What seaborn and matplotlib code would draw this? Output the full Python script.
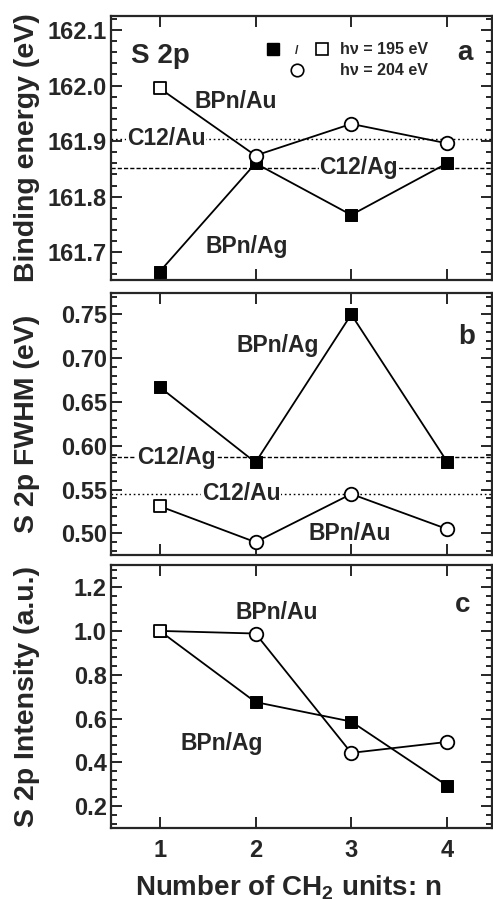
import seaborn as sns
import matplotlib.pyplot as plt
import pandas as pd
from matplotlib.ticker import MultipleLocator, AutoMinorLocator

# values
n_units = [1, 2, 3, 4]
be_bpn_au = [161.995, 161.874, 161.931, 161.896]
be_bpn_ag = [161.665, 161.860, 161.767, 161.860]
be_c12_au = 161.904
be_c12_ag = 161.852
fwhm_bpn_ag = [0.667, 0.581, 0.750, 0.582]
fwhm_bpn_au = [0.531, 0.490, 0.545, 0.505]
fwhm_c12_ag = 0.587
fwhm_c12_au = 0.5455
int_bpn_au = [1.0, 0.988, 0.443, 0.493]
int_bpn_ag = [1.0, 0.675, 0.586, 0.294]
# photon energy of each Au point: 195 eV (square) at n=1, 204 eV (circle) after
au_photon = ['195', '204', '204', '204']

sns.set_style('ticks')
plt.rcParams['font.family'] = ['Liberation Sans', 'DejaVu Sans']
plt.rcParams['font.weight'] = 'bold'
plt.rcParams['axes.labelweight'] = 'bold'
plt.rcParams['mathtext.fontset'] = 'custom'
plt.rcParams['mathtext.rm'] = 'Liberation Sans:bold'
plt.rcParams['mathtext.bf'] = 'Liberation Sans:bold'
plt.rcParams['mathtext.default'] = 'bf'

fig = plt.figure(figsize=(4.93, 9), dpi=100)
left, width = 0.225, 0.773
ax_a = fig.add_axes([left, 0.689, width, 0.293])
ax_b = fig.add_axes([left, 0.383, width, 0.291])
ax_c = fig.add_axes([left, 0.080, width, 0.292])

ms_sq = 75
ms_ci = 95


def draw_series(ax, au, ag):
    df_au = pd.DataFrame({'n': n_units, 'val': au, 'hv': au_photon})
    df_ag = pd.DataFrame({'n': n_units, 'val': ag})
    sns.lineplot(data=df_au, x='n', y='val', color='black', lw=1.3, ax=ax, zorder=2)
    sns.lineplot(data=df_ag, x='n', y='val', color='black', lw=1.3, ax=ax, zorder=2)
    sns.scatterplot(data=df_ag, x='n', y='val', marker='s', s=ms_sq, color='black',
                    edgecolor='black', ax=ax, zorder=3)
    sq = df_au[df_au['hv'] == '195']
    ci = df_au[df_au['hv'] == '204']
    sns.scatterplot(data=sq, x='n', y='val', marker='s', s=ms_sq, facecolor='white',
                    edgecolor='black', linewidth=1.3, ax=ax, zorder=4)
    sns.scatterplot(data=ci, x='n', y='val', marker='o', s=ms_ci, facecolor='white',
                    edgecolor='black', linewidth=1.3, ax=ax, zorder=4)


def style_axis(ax, ylo, yhi, major):
    ax.set_xlim(0.49, 4.47)
    ax.set_ylim(ylo, yhi)
    ax.xaxis.set_major_locator(MultipleLocator(1))
    ax.yaxis.set_major_locator(MultipleLocator(major))
    ax.yaxis.set_minor_locator(AutoMinorLocator(5))
    ax.tick_params(which='both', direction='in', top=True, right=True,
                   width=1.4, labelsize=17, pad=3)
    ax.tick_params(which='major', length=8)
    ax.tick_params(which='minor', length=4)
    for sp in ax.spines.values():
        sp.set_linewidth(1.6)
    ax.set_xlabel('')
    ax.yaxis.set_label_coords(-0.185, 0.5)


lbl = dict(fontsize=16.5, fontweight='bold', ha='center', va='center', zorder=5)
box = dict(facecolor='white', edgecolor='none', pad=0.5)

# panel a
draw_series(ax_a, be_bpn_au, be_bpn_ag)
ax_a.axhline(be_c12_au, color='black', lw=1.0, ls=(0, (1.2, 2.0)), zorder=1)
ax_a.axhline(be_c12_ag, color='black', lw=1.0, ls=(0, (3, 1.5)), zorder=1)
style_axis(ax_a, 161.65, 162.125, 0.1)
ax_a.set_ylabel('Binding energy (eV)', fontsize=20.5)
ax_a.tick_params(labelbottom=False)
ax_a.text(1.79, 161.971, 'BPn/Au', **lbl)
ax_a.text(1.07, be_c12_au, 'C12/Au', bbox=box, **lbl)
ax_a.text(3.08, be_c12_ag, 'C12/Ag', bbox=box, **lbl)
ax_a.text(1.905, 161.71, 'BPn/Ag', **lbl)
ax_a.text(0.052, 0.848, 'S 2p', transform=ax_a.transAxes, fontsize=20,
          fontweight='bold', va='center', ha='left')
ax_a.text(0.93, 0.86, 'a', transform=ax_a.transAxes, fontsize=20,
          fontweight='bold', va='center', ha='center')
# legend symbols
ax_a.plot([0.425], [0.875], marker='s', ms=8, color='black', transform=ax_a.transAxes)
ax_a.text(0.488, 0.868, '/', transform=ax_a.transAxes, fontsize=9,
          fontweight='bold', ha='center', va='center')
ax_a.plot([0.554], [0.875], marker='s', ms=8, mfc='white', mec='black', mew=1.2,
          transform=ax_a.transAxes)
ax_a.plot([0.488], [0.795], marker='o', ms=9, mfc='white', mec='black', mew=1.2,
          transform=ax_a.transAxes)
ax_a.text(0.601, 0.875, 'h\u03bd = 195 eV', transform=ax_a.transAxes, fontsize=11.5,
          fontweight='bold', va='center', ha='left')
ax_a.text(0.601, 0.795, 'h\u03bd = 204 eV', transform=ax_a.transAxes, fontsize=11.5,
          fontweight='bold', va='center', ha='left')

# panel b
draw_series(ax_b, fwhm_bpn_au, fwhm_bpn_ag)
ax_b.axhline(fwhm_c12_au, color='black', lw=1.0, ls=(0, (1.2, 2.0)), zorder=1)
ax_b.axhline(fwhm_c12_ag, color='black', lw=1.0, ls=(0, (3, 1.5)), zorder=1)
style_axis(ax_b, 0.475, 0.774, 0.05)
ax_b.yaxis.set_major_formatter(plt.FormatStrFormatter('%.2f'))
ax_b.set_ylabel('S 2p FWHM (eV)', fontsize=20.5)
ax_b.tick_params(labelbottom=False)
ax_b.text(2.23, 0.715, 'BPn/Ag', **lbl)
ax_b.text(1.17, fwhm_c12_ag, 'C12/Ag', bbox=box, **lbl)
ax_b.text(1.85, fwhm_c12_au, 'C12/Au', bbox=box, **lbl)
ax_b.text(2.98, 0.50, 'BPn/Au', **lbl)
ax_b.text(0.934, 0.833, 'b', transform=ax_b.transAxes, fontsize=20,
          fontweight='bold', va='center', ha='center')

# panel c
draw_series(ax_c, int_bpn_au, int_bpn_ag)
style_axis(ax_c, 0.1, 1.3, 0.2)
ax_c.yaxis.set_major_formatter(plt.FormatStrFormatter('%.1f'))
ax_c.set_ylabel('S 2p Intensity (a.u.)', fontsize=20.5)
ax_c.set_xlabel('Number of CH$_{\\mathregular{2}}$ units: n', fontsize=20)
ax_c.xaxis.set_label_coords(0.465, -0.172)
ax_c.tick_params(axis='x', pad=8)
ax_c.text(2.22, 1.082, 'BPn/Au', **lbl)
ax_c.text(1.65, 0.486, 'BPn/Ag', **lbl)
ax_c.text(0.924, 0.848, 'c', transform=ax_c.transAxes, fontsize=20,
          fontweight='bold', va='center', ha='center')

for ax in (ax_a, ax_b, ax_c):
    for lab in ax.get_yticklabels() + ax.get_xticklabels():
        lab.set_fontweight('bold')

fig.savefig('out.png', dpi=100)
